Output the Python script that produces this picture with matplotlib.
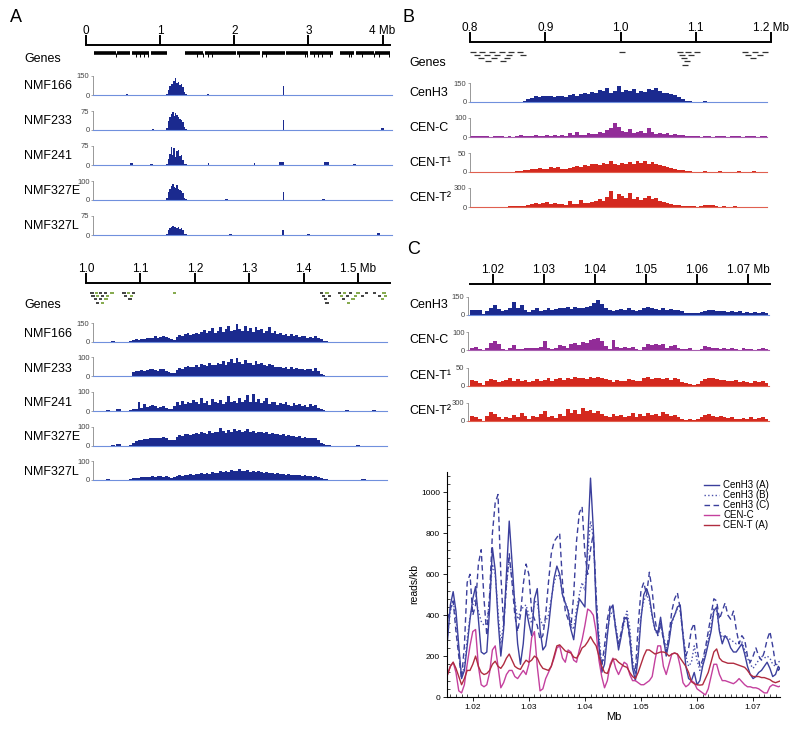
import numpy as np
import matplotlib
matplotlib.use("Agg")
import matplotlib.pyplot as plt
from matplotlib.ticker import AutoMinorLocator, MultipleLocator

plt.rcParams['font.family'] = ['Liberation Sans', 'DejaVu Sans']

W, H = 800, 737

NAVY = '#1b2a8f'
BASE_BLUE = '#7090dd'
PURPLE = '#922c98'
RED = '#d4281e'
GREY = '#444444'

# ---------------- panel A, whole chromosome (Mb) ----------------
a1_tracks = ['NMF166', 'NMF233', 'NMF241', 'NMF327E', 'NMF327L']
a1_ymax = [150, 75, 75, 100, 75]
a1_start, a1_bin = 1.08, 0.02
a1_vals = [
    [10, 40, 70, 90, 85, 110, 135, 95, 100, 80, 90, 60, 25, 5],
    [8, 35, 50, 62, 70, 55, 68, 60, 50, 45, 40, 30, 10, 3],
    [5, 25, 45, 72, 40, 68, 30, 55, 60, 35, 40, 20, 5, 2],
    [10, 40, 60, 75, 85, 70, 65, 80, 60, 55, 50, 35, 10, 3],
    [5, 20, 28, 32, 35, 30, 33, 28, 30, 25, 28, 20, 5, 2],
]
a1_extra_pos = [
    [0.55, 1.65, 2.66, 3.55],
    [0.9, 2.66, 4.0],
    [0.62, 0.88, 1.65, 2.27, 2.64, 3.24, 3.62],
    [1.9, 2.66, 3.2],
    [1.95, 2.66, 3.0, 3.95],
]
a1_extra_h = [
    [4, 4, 72, 3],
    [3, 39, 6],
    [6, 5, 6, 9, 13, 13, 4],
    [5, 44, 4],
    [4, 20, 5, 6],
]
a1_extra_w = [
    [0.03, 0.03, 0.015, 0.03],
    [0.03, 0.012, 0.04],
    [0.04, 0.04, 0.02, 0.012, 0.07, 0.07, 0.04],
    [0.04, 0.012, 0.04],
    [0.04, 0.03, 0.03, 0.04],
]
a1_gene_start = [0.11, 0.42, 0.62, 0.87, 1.14, 1.34, 1.60, 2.04, 2.37, 2.70, 3.02, 3.43, 3.64, 3.90]
a1_gene_end = [0.40, 0.60, 0.85, 1.09, 1.15, 1.58, 2.02, 2.35, 2.68, 3.00, 3.33, 3.62, 3.88, 4.12]
a1_gene_ticks = [0.40, 0.68, 0.73, 0.78, 0.83, 1.50, 1.58, 1.64, 1.70, 2.06, 2.38, 2.43,
                 2.95, 2.98, 3.07, 3.13, 3.18, 3.29, 3.55, 3.58, 3.72, 3.88, 3.95, 4.08]

# ---------------- panel A, centromere zoom ----------------
a2_start, a2_bin = 1.08, 0.005
a2_ymax = [150, 100, 100, 100, 100]
a2_vals = [
    [5, 15, 20, 18, 25, 22, 30, 28, 35, 45, 30, 40, 50, 38, 30, 20,
     15, 40, 55, 45, 60, 70, 55, 65, 75, 60, 80, 95, 70, 85, 110, 75,
     90, 120, 80, 100, 130, 85, 95, 140, 100, 85, 125, 90, 110, 80, 120, 95,
     105, 75, 90, 115, 70, 85, 60, 75, 55, 65, 50, 60, 45, 55, 40, 50,
     45, 35, 40, 30, 50, 35, 20, 10, 5, 3],
    [5, 25, 30, 28, 32, 30, 35, 38, 40, 35, 30, 38, 42, 30, 25, 20,
     20, 35, 45, 40, 50, 55, 48, 52, 60, 50, 65, 58, 55, 70, 62, 60,
     72, 65, 80, 60, 75, 90, 70, 95, 78, 65, 85, 70, 72, 60, 80, 68,
     70, 60, 55, 65, 58, 50, 52, 48, 45, 50, 42, 48, 38, 45, 40, 42,
     35, 38, 40, 30, 45, 30, 15, 8, 3, 2],
    [3, 8, 10, 45, 15, 35, 20, 25, 30, 25, 15, 20, 25, 15, 10, 8,
     25, 45, 30, 55, 35, 50, 40, 60, 45, 35, 70, 40, 55, 30, 65, 45,
     40, 60, 35, 50, 80, 45, 55, 40, 70, 50, 60, 85, 45, 90, 50, 65,
     40, 55, 70, 35, 45, 50, 30, 40, 35, 45, 30, 25, 40, 30, 35, 25,
     30, 20, 35, 25, 30, 15, 8, 4, 2, 2],
    [5, 15, 25, 28, 30, 32, 35, 38, 40, 42, 38, 40, 45, 38, 30, 28,
     30, 45, 55, 50, 60, 58, 55, 62, 65, 60, 70, 65, 62, 75, 68, 72,
     70, 90, 75, 65, 80, 70, 85, 75, 80, 70, 75, 85, 70, 78, 68, 72,
     70, 65, 72, 60, 65, 58, 62, 55, 58, 52, 55, 50, 52, 45, 48, 42,
     45, 40, 42, 38, 40, 30, 15, 8, 4, 3],
    [3, 8, 10, 12, 15, 14, 18, 16, 20, 18, 22, 20, 18, 22, 15, 12,
     15, 20, 25, 22, 28, 25, 30, 28, 32, 30, 35, 30, 38, 32, 40, 35,
     38, 45, 40, 50, 42, 55, 45, 48, 60, 45, 50, 55, 42, 48, 40, 45,
     42, 38, 40, 35, 38, 32, 35, 30, 32, 28, 30, 25, 28, 24, 26, 22,
     24, 20, 22, 18, 20, 15, 8, 5, 3, 2],
]
a2_extra_pos = [[1.03, 1.05, 1.47, 1.52], [1.04, 1.50], [1.04, 1.06, 1.48, 1.53], [1.05, 1.06, 1.5], [1.04, 1.51]]
a2_extra_h = [[3, 4, 3, 3], [3, 3], [4, 8, 5, 6], [4, 8, 4], [3, 3]]
a2_gene_start = [1.008, 1.016, 1.024, 1.033, 1.045, 1.010, 1.018, 1.027, 1.036, 1.015, 1.024,
                 1.034, 1.018, 1.028, 1.067, 1.075, 1.084, 1.070, 1.080, 1.078, 1.160,
                 1.430, 1.440, 1.463, 1.472, 1.483, 1.497, 1.512, 1.527, 1.545, 1.433,
                 1.445, 1.466, 1.478, 1.492, 1.505, 1.537, 1.548, 1.437, 1.470, 1.488,
                 1.542, 1.440, 1.480]
a2_gene_row = [0, 0, 0, 0, 0, 1, 1, 1, 1, 2, 2, 2, 3, 3, 0, 0, 0, 1, 1, 2, 0,
               0, 0, 0, 0, 0, 0, 0, 0, 0, 1, 1, 1, 1, 1, 1, 1, 1, 2, 2, 2, 2, 3, 3]
a2_gene_green = [0, 1, 0, 0, 1, 0, 1, 0, 1, 0, 0, 1, 0, 1, 0, 1, 0, 0, 1, 0, 1,
                 0, 1, 0, 1, 0, 1, 0, 0, 1, 0, 0, 1, 0, 1, 0, 0, 1, 0, 0, 1, 1, 0, 1]

# ---------------- panel B ----------------
b_tracks = ['CenH3', 'CEN-C', 'CEN-T\u00b9', 'CEN-T\u00b2']
b_ymax = [150, 100, 50, 300]
b_start, b_bin = 0.8, 0.005
b_vals = [
    [1, 1, 2, 1, 1, 2, 1, 1, 2, 1, 1, 2, 3, 2, 8,
     25, 35, 45, 40, 50, 45, 48, 42, 50, 45, 40, 55, 60, 50, 65, 70, 60, 80, 75, 95,
     85, 110, 70, 90, 125, 80, 95, 85, 105, 75, 90, 80, 100, 95, 110, 85, 70, 75, 60, 55,
     40, 25, 10, 4, 2,
     2, 1, 5, 1, 1, 2, 1, 3, 1, 1, 2, 1, 1, 2, 1, 1, 1, 2, 1, 1],
    [3, 4, 6, 4, 3, 2, 3, 4, 3, 2, 3, 2, 4, 8, 6,
     5, 3, 8, 4, 6, 10, 4, 8, 5, 12, 6, 20, 10, 25, 8, 12, 22, 15, 18, 25,
     20, 35, 50, 72, 55, 30, 25, 40, 20, 25, 30, 20, 45, 25, 18, 22, 15, 20, 12, 15,
     10, 8, 6, 4, 3,
     3, 2, 5, 3, 2, 4, 6, 3, 2, 5, 3, 4, 2, 3, 5, 4, 2, 3, 3, 2],
    [1, 1, 1, 1, 1, 1, 1, 1, 1, 1, 1, 1, 2, 2, 4,
     6, 8, 7, 10, 9, 8, 12, 10, 14, 9, 8, 10, 12, 16, 12, 18, 15, 20, 22, 18,
     25, 20, 28, 22, 18, 24, 20, 26, 22, 28, 24, 30, 22, 26, 20, 18, 15, 12, 10, 8,
     6, 5, 3, 2, 1,
     1, 1, 2, 1, 1, 1, 2, 1, 1, 1, 1, 2, 1, 1, 1, 2, 1, 1, 1, 1],
    [3, 2, 3, 2, 4, 3, 2, 3, 4, 5, 10, 8, 12, 10, 15,
     30, 50, 70, 55, 60, 75, 50, 65, 45, 40, 35, 90, 50, 40, 110, 60, 70, 80, 100, 130,
     90, 160, 250, 120, 200, 180, 150, 220, 130, 160, 110, 150, 180, 120, 140, 100, 80, 60, 40, 30,
     25, 10, 15, 8, 20,
     5, 10, 25, 28, 30, 10, 5, 8, 6, 5, 8, 6, 5, 7, 6, 5, 6, 4, 5, 4],
]
b_gene_start = [0.800, 0.812, 0.825, 0.838, 0.850, 0.862, 0.805, 0.818, 0.832, 0.848, 0.866,
                0.810, 0.828, 0.845, 0.820, 0.840, 0.998, 1.075, 1.086, 1.098, 1.078,
                1.090, 1.080, 1.084, 1.082, 1.162, 1.175, 1.188, 1.166, 1.182, 1.172]
b_gene_row = [0, 0, 0, 0, 0, 0, 1, 1, 1, 1, 1, 2, 2, 2, 3, 3, 0, 0, 0, 0, 1, 1, 2, 3, 4,
              0, 0, 0, 1, 1, 2]

# ---------------- panel C ----------------
c_start, c_bin = 1.0155, 0.00075
c_vals = [
    [40, 45, 38, 12, 35, 55, 80, 50, 35, 45, 60, 105, 55, 80, 45, 25, 40, 55, 30, 45,
     55, 40, 50, 60, 55, 65, 50, 70, 60, 55, 65, 75, 100, 125, 90, 60, 45, 30, 45, 50,
     40, 55, 45, 30, 40, 55, 65, 60, 50, 45, 55, 45, 50, 40, 45, 35, 20, 15, 20, 15,
     25, 35, 45, 40, 35, 30, 35, 25, 30, 25, 30, 20, 25, 20, 25, 20, 22, 20],
    [10, 20, 8, 3, 15, 40, 50, 35, 5, 4, 15, 30, 8, 5, 10, 12, 15, 12, 20, 50,
     15, 5, 10, 30, 25, 15, 35, 40, 30, 45, 40, 55, 65, 70, 50, 25, 8, 55, 20, 15,
     20, 12, 18, 5, 4, 20, 35, 30, 35, 30, 35, 10, 25, 30, 10, 5, 8, 12, 4, 3,
     8, 25, 20, 15, 10, 8, 12, 5, 10, 6, 4, 10, 5, 8, 4, 6, 10, 5],
    [15, 12, 8, 3, 12, 18, 15, 10, 12, 15, 20, 14, 18, 12, 15, 10, 14, 18, 12, 16,
     22, 14, 18, 20, 15, 22, 18, 24, 20, 22, 18, 25, 22, 24, 20, 18, 15, 10, 16, 14,
     12, 18, 15, 12, 14, 20, 24, 18, 22, 20, 18, 22, 16, 20, 18, 10, 6, 4, 3, 5,
     12, 18, 22, 20, 18, 15, 16, 14, 12, 15, 10, 12, 10, 8, 12, 10, 14, 8],
    [80, 60, 30, 5, 90, 150, 110, 60, 40, 70, 50, 100, 60, 140, 80, 40, 90, 70, 120, 160,
     60, 90, 50, 110, 80, 200, 140, 180, 120, 220, 160, 190, 140, 170, 110, 90, 60, 120, 80, 100,
     60, 90, 130, 70, 110, 80, 140, 100, 120, 90, 150, 110, 80, 100, 60, 30, 20, 40, 10, 30,
     60, 100, 120, 80, 70, 90, 60, 50, 70, 40, 30, 50, 40, 60, 30, 50, 70, 40],
]

# ---------------- reads/kb profiles (0.5 kb steps from 1.0155 Mb) ----------------
line_x0, line_step = 1.0155, 0.0005
cenh3_a = [280, 450, 515, 420, 250, 90, 130, 250, 380, 480,
           540, 380, 220, 210, 220, 430, 730, 620, 380, 200,
           330, 600, 860, 660, 450, 260, 160, 260, 430, 360,
           300, 480, 530, 330, 230, 250, 340, 470, 580, 640,
           600, 500, 460, 420, 330, 280, 400, 480, 460, 440,
           760, 1070, 820, 440, 250, 120, 160, 300, 430, 450,
           330, 230, 300, 380, 390, 300, 140, 80, 200, 380,
           500, 530, 490, 400, 330, 310, 390, 290, 200, 270,
           370, 400, 440, 450, 300, 150, 90, 80, 120, 60,
           80, 150, 200, 260, 320, 420, 440, 320, 260, 300,
           280, 240, 220, 220, 240, 260, 210, 150, 110, 90,
           100, 120, 130, 150, 170, 140, 100, 110, 150, 130]
cenh3_b = [300, 420, 470, 380, 230, 100, 150, 280, 390, 450,
           480, 420, 370, 350, 360, 480, 650, 600, 420, 260,
           360, 540, 680, 580, 470, 380, 420, 440, 450, 400,
           360, 470, 460, 380, 350, 370, 400, 480, 560, 600,
           590, 500, 460, 430, 360, 330, 430, 500, 560, 520,
           700, 860, 780, 480, 300, 160, 190, 320, 400, 420,
           350, 260, 310, 360, 420, 340, 180, 110, 230, 400,
           470, 500, 470, 390, 330, 300, 350, 300, 240, 290,
           360, 400, 430, 420, 310, 200, 150, 170, 250, 180,
           130, 170, 220, 280, 350, 430, 420, 330, 290, 300,
           290, 280, 270, 260, 270, 270, 230, 190, 160, 140,
           160, 180, 200, 190, 200, 190, 160, 150, 170, 180]
cenh3_c = [380, 430, 470, 320, 200, 90, 250, 560, 600, 400,
           450, 650, 720, 480, 300, 500, 800, 950, 990, 600,
           350, 550, 700, 560, 400, 320, 400, 550, 650, 600,
           420, 380, 350, 280, 300, 400, 560, 700, 760, 780,
           800, 560, 420, 380, 340, 500, 760, 900, 930, 700,
           600, 720, 800, 500, 260, 150, 250, 380, 450, 440,
           330, 260, 320, 390, 380, 280, 160, 120, 350, 520,
           560, 500, 610, 520, 380, 300, 360, 280, 220, 300,
           420, 480, 510, 430, 300, 200, 240, 330, 360, 240,
           150, 180, 240, 320, 400, 480, 470, 380, 420, 460,
           400, 380, 420, 330, 260, 300, 280, 200, 170, 200,
           240, 200, 180, 220, 280, 320, 250, 160, 130, 150]
cen_c = [110, 150, 170, 120, 30, 20, 60, 160, 250, 320,
         330, 150, 60, 50, 60, 120, 230, 250, 150, 45,
         70, 110, 130, 130, 100, 90, 110, 130, 110, 160,
         290, 320, 150, 30, 40, 90, 120, 150, 190, 240,
         250, 190, 170, 230, 220, 180, 170, 230, 280, 350,
         430, 420, 400, 320, 180, 100, 45, 80, 160, 190,
         140, 110, 140, 170, 160, 110, 80, 80, 70, 60,
         60, 70, 80, 100, 180, 250, 250, 150, 110, 160,
         210, 215, 210, 150, 70, 50, 60, 80, 70, 40,
         30, 20, 10, 40, 100, 160, 160, 110, 80, 80,
         75, 70, 65, 75, 90, 75, 60, 50, 50, 45,
         45, 40, 30, 20, 20, 50, 60, 55, 50, 55]
cen_t = [110, 150, 170, 140, 100, 60, 90, 130, 130, 160,
         200, 150, 120, 110, 115, 130, 160, 175, 150, 140,
         160, 190, 210, 180, 150, 140, 135, 160, 180, 170,
         180, 200, 190, 160, 140, 135, 130, 150, 200, 250,
         255, 240, 225, 220, 215, 195, 190, 210, 240, 250,
         270, 295, 270, 250, 200, 150, 120, 115, 150, 185,
         185, 170, 160, 150, 145, 120, 100, 90, 120, 160,
         200, 230, 230, 220, 210, 215, 220, 220, 215, 200,
         210, 215, 210, 190, 170, 150, 120, 75, 65, 60,
         58, 60, 90, 120, 170, 220, 235, 190, 175, 170,
         165, 165, 165, 160, 155, 150, 145, 130, 110, 100,
         100, 100, 95, 95, 90, 85, 75, 70, 75, 80]

fig = plt.figure(figsize=(W / 100, H / 100), dpi=100)


def px_axes(left, top, right, bottom):
    ax = fig.add_axes([left / W, 1 - bottom / H, (right - left) / W, (bottom - top) / H])
    ax.patch.set_alpha(0)
    return ax


def span_mb(scale, px0, px1):
    (sx0, sx1), (m0, m1) = scale
    k = (m1 - m0) / (sx1 - sx0)
    return m0 + (px0 - sx0) * k, m0 + (px1 - sx0) * k


def label(x, y, s, size=9, **kw):
    fig.text(x / W, 1 - y / H, s, fontsize=size, va='center', **kw)


def draw_scale(scale, y, ticks, labels):
    (sx0, sx1), lim = scale
    ax = px_axes(sx0, y - 7, sx1, y)
    ax.set_xlim(lim)
    ax.set_ylim(0, 1)
    for s in ['top', 'left', 'right']:
        ax.spines[s].set_visible(False)
    ax.spines['bottom'].set_linewidth(1.4)
    ax.set_yticks([])
    ax.set_xticks(ticks)
    ax.set_xticklabels(labels)
    ax.tick_params(axis='x', direction='in', length=7, width=1.4, bottom=True, top=False,
                   labelbottom=False, labeltop=True, labelsize=8.5, pad=1)


def draw_track(px0, px1, base, height, lim, start, width, vals, ymax, color, line_color,
               extra_pos=(), extra_h=(), extra_w=None):
    ax = px_axes(px0, base - height, px1, base)
    centers = start + width * (np.arange(len(vals)) + 0.5)
    ax.bar(centers, vals, width=width * 1.02, color=color, linewidth=0)
    if len(extra_pos):
        ew = extra_w if extra_w is not None else [width] * len(extra_pos)
        ax.bar(extra_pos, extra_h, width=ew, color=color, linewidth=0)
    ax.set_xlim(lim)
    ax.set_ylim(0, ymax)
    ax.spines['top'].set_visible(False)
    ax.spines['right'].set_visible(False)
    ax.spines['bottom'].set_color(line_color)
    ax.spines['bottom'].set_linewidth(0.8)
    ax.spines['left'].set_color('#888888')
    ax.spines['left'].set_linewidth(0.6)
    ax.set_xticks([])
    ax.set_yticks([0, ymax])
    ax.tick_params(axis='y', length=1.5, width=0.5, color='#888888', labelsize=5.5,
                   labelcolor=GREY, pad=1)
    return ax


# ---------------- panel A top ----------------
a1_scale = ((86, 390), (0.0, 4.1))
draw_scale(a1_scale, 45, [0, 1, 2, 3, 4], ['0', '1', '2', '3', '4 Mb'])
gax = px_axes(86, 49, 390, 60)
gax.set_xlim(a1_scale[1])
gax.set_ylim(1, 0)
gax.hlines([0.35] * len(a1_gene_start), a1_gene_start, a1_gene_end, color='black', lw=2.6)
gax.vlines(a1_gene_ticks, 0.35, 0.75, color='black', lw=0.7)
gax.axis('off')
label(24, 59, 'Genes')
a1_lim = span_mb(a1_scale, 93, 392)
for i, name in enumerate(a1_tracks):
    base = 95 + 35 * i
    draw_track(93, 392, base, 19, a1_lim, a1_start, a1_bin, a1_vals[i], a1_ymax[i], NAVY,
               BASE_BLUE, a1_extra_pos[i], a1_extra_h[i], a1_extra_w[i])
    label(24, base - 9, name)

# ---------------- panel A bottom ----------------
a2_scale = ((86, 390), (1.0, 1.0 + 304 / 544))
draw_scale(a2_scale, 283, [1.0, 1.1, 1.2, 1.3, 1.4, 1.5], ['1.0', '1.1', '1.2', '1.3', '1.4', '1.5 Mb'])
gax = px_axes(86, 291, 390, 306)
gax.set_xlim(a2_scale[1])
gax.set_ylim(4, -0.5)
a2_colors = ['#6f9b2e' if g else '#222222' for g in a2_gene_green]
gax.hlines(a2_gene_row, a2_gene_start, np.array(a2_gene_start) + 0.006, colors=a2_colors, lw=1.2)
gax.axis('off')
label(24, 305, 'Genes')
a2_lim = span_mb(a2_scale, 93, 387)
for i, name in enumerate(a1_tracks):
    base = 342 + 34.5 * i
    draw_track(93, 387, base, 19, a2_lim, a2_start, a2_bin, a2_vals[i], a2_ymax[i], NAVY,
               BASE_BLUE, a2_extra_pos[i], a2_extra_h[i], [0.008] * len(a2_extra_pos[i]))
    label(24, base - 8, name)

# ---------------- panel B ----------------
b_scale = ((470, 771), (0.8, 1.2))
draw_scale(b_scale, 42, [0.8, 0.9, 1.0, 1.1, 1.2], ['0.8', '0.9', '1.0', '1.1', '1.2 Mb'])
gax = px_axes(470, 50, 771, 68)
gax.set_xlim(b_scale[1])
gax.set_ylim(5, -0.5)
gax.hlines(b_gene_row, b_gene_start, np.array(b_gene_start) + 0.008, color='#333333', lw=0.9)
gax.axis('off')
label(409, 63, 'Genes')
b_colors = [NAVY, PURPLE, RED, RED]
b_lines = [BASE_BLUE, '#a860b0', '#e06050', '#e06050']
b_lim = span_mb(b_scale, 470, 767)
for i, name in enumerate(b_tracks):
    base = 102 + 35 * i
    draw_track(470, 767, base, 19, b_lim, b_start, b_bin, b_vals[i], b_ymax[i], b_colors[i], b_lines[i])
    label(409, base - 9, name)

# ---------------- panel C ----------------
c_scale = ((470, 770), (1.02 - 23 / 5100, 1.02 + 277 / 5100))
draw_scale(c_scale, 284, [1.02, 1.03, 1.04, 1.05, 1.06, 1.07],
           ['1.02', '1.03', '1.04', '1.05', '1.06', '1.07 Mb'])
c_lim = span_mb(c_scale, 468, 769)
for i, name in enumerate(b_tracks):
    base = 315 + 35.3 * i
    draw_track(468, 769, base, 18, c_lim, c_start, c_bin, c_vals[i], b_ymax[i], b_colors[i], b_lines[i])
    label(409, base - 10, name)

# ---------------- reads/kb line plot ----------------
ax = px_axes(447, 472, 780, 697)
x = line_x0 + line_step * np.arange(len(cenh3_a))
ax.plot(x, cenh3_a, color='#3b3f9c', lw=1.0, label='CenH3 (A)')
ax.plot(x, cenh3_b, color='#4a50aa', lw=1.0, ls=':', label='CenH3 (B)')
ax.plot(x, cenh3_c, color='#3b3f9c', lw=1.0, ls=(0, (4, 2.5)), label='CenH3 (C)')
ax.plot(x, cen_c, color='#c4409e', lw=1.0, label='CEN-C')
ax.plot(x, cen_t, color='#b02c40', lw=1.0, label='CEN-T (A)')
ax.set_xlim(1.0154, 1.0748)
ax.set_ylim(0, 1100)
ax.spines['top'].set_visible(False)
ax.spines['right'].set_visible(False)
ax.xaxis.set_major_locator(MultipleLocator(0.01))
ax.xaxis.set_major_formatter(plt.FuncFormatter(lambda v, p: f'{v:.2f}'))
ax.xaxis.set_minor_locator(AutoMinorLocator(10))
ax.yaxis.set_major_locator(MultipleLocator(200))
ax.yaxis.set_minor_locator(AutoMinorLocator(5))
ax.tick_params(which='major', direction='out', length=3, width=0.6, labelsize=6, pad=2)
ax.tick_params(which='minor', direction='in', length=2, width=0.5)
for s in ['left', 'bottom']:
    ax.spines[s].set_linewidth(0.8)
ax.set_ylabel('reads/kb', fontsize=7.5, labelpad=1)
ax.set_xlabel('Mb', fontsize=8, labelpad=1)
ax.legend(loc='upper right', bbox_to_anchor=(0.98, 0.98), frameon=False, fontsize=7,
          handlelength=1.6, handletextpad=0.4, labelspacing=0.0, borderaxespad=0)

# panel letters
label(16, 18, 'A', size=13, ha='center')
label(409, 18, 'B', size=13, ha='center')
label(414, 250, 'C', size=13, ha='center')

fig.savefig('out.png', dpi=100)
